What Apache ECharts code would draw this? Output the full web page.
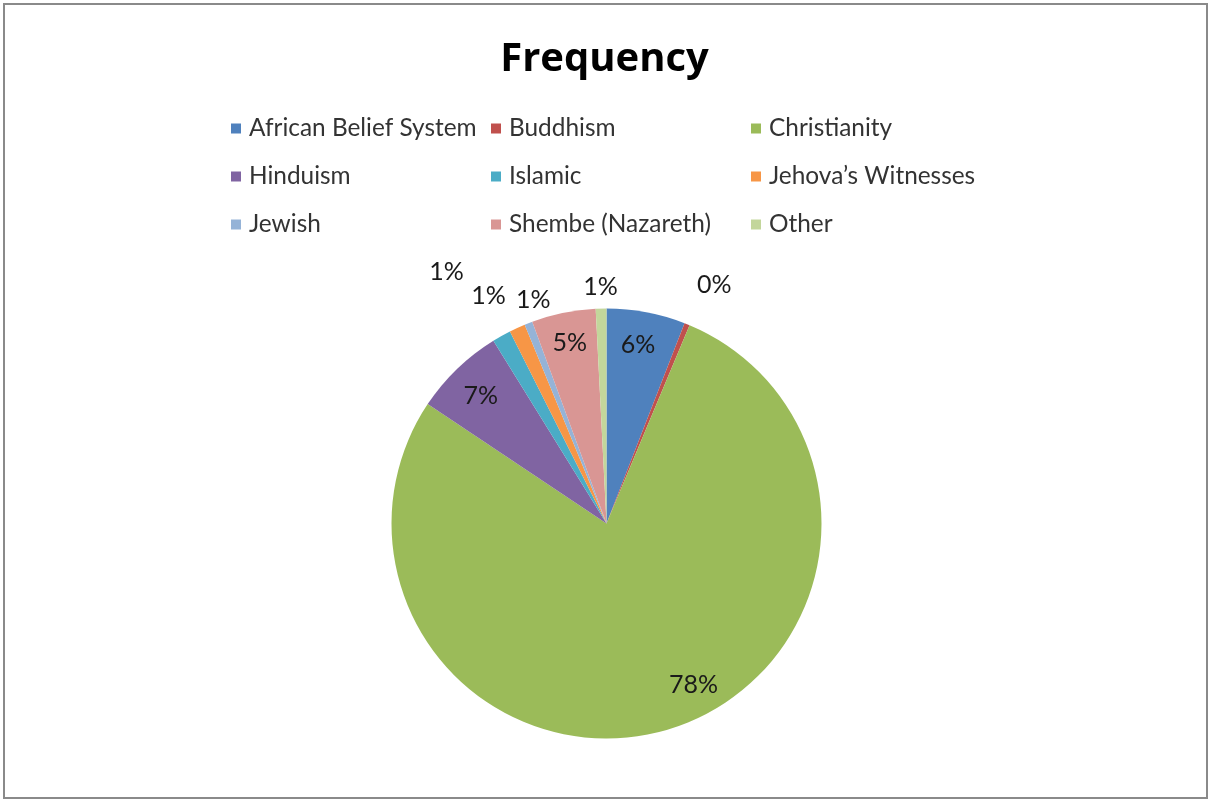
<!DOCTYPE html>
<html>
<head>
<meta charset="utf-8">
<title>Frequency</title>
<script src="https://cdn.jsdelivr.net/npm/echarts@6/dist/echarts.min.js"></script>
<style>
  html, body { margin: 0; padding: 0; background: #ffffff; }
  #chart { width: 1209px; height: 801px; }
</style>
</head>
<body>
<div id="chart"></div>
<script>
// Religious affiliation, share of respondents (percent)
const categories = [
  'African Belief System', 'Buddhism', 'Christianity',
  'Hinduism', 'Islamic', 'Jehova\u2019s Witnesses',
  'Jewish', 'Shembe (Nazareth)', 'Other'
];
const shares = [5.9, 0.4, 77.9, 6.8, 1.4, 1.2, 0.6, 4.8, 0.8];

const palette = [
  '#4F81BD', '#C0504D', '#9BBB59',
  '#8064A2', '#4BACC6', '#F79646',
  '#95B3D7', '#D99694', '#C3D69B'
];

// label placement: distance from the rim (negative = inside the slice) and a small nudge
const labelRadialOffset = [-33, 46, -31, -34, 84, 40, 20, -31, 22];
const labelNudge = [[-2, 0], [10, 3], [34, -15], [0, 3], [-14, 9], [-12, 4], [12, -5], [0, 0], [0, 0]];

const FONT = 'Lato, "Open Sans", sans-serif';

const chart = echarts.init(document.getElementById('chart'));

chart.setOption({
  backgroundColor: '#ffffff',
  animation: false,
  color: palette,
  title: {
    text: 'Frequency',
    left: 'center',
    top: 33,
    textStyle: { fontFamily: '"Open Sans", sans-serif', fontWeight: 'bold', fontSize: 40, color: '#000000', lineHeight: 44 }
  },
  legend: {
    left: 231,
    top: 104.5,
    width: 800,
    padding: 0,
    icon: 'rect',
    itemWidth: 10,
    itemHeight: 10,
    itemGap: 0,
    selectedMode: false,
    textStyle: {
      fontFamily: FONT, fontSize: 24.4, color: '#333333',
      width: 242, lineHeight: 48, padding: [0, 0, 0, 3]
    },
    data: categories
  },
  graphic: [{
    type: 'rect',
    shape: { x: 4, y: 4, width: 1203, height: 794 },
    style: { fill: 'none', stroke: '#8a8a8a', lineWidth: 2 },
    silent: true
  }],
  series: [{
    type: 'pie',
    center: [606.5, 523.5],
    radius: 215,
    startAngle: 90,
    clockwise: true,
    avoidLabelOverlap: false,
    emphasis: { disabled: true },
    label: {
      show: true,
      position: 'outside',
      distanceToLabelLine: 0,
      fontFamily: FONT,
      fontSize: 25,
      color: '#1a1a1a',
      formatter: p => Math.round(p.percent) + '%'
    },
    labelLine: { show: false, length2: 0 },
    labelLayout: p => ({
      align: 'center',
      dx: labelNudge[p.dataIndex][0],
      dy: labelNudge[p.dataIndex][1]
    }),
    data: categories.map((name, i) => ({
      name,
      value: shares[i],
      labelLine: { show: false, length: labelRadialOffset[i], length2: 0 }
    }))
  }]
});
</script>
</body>
</html>
